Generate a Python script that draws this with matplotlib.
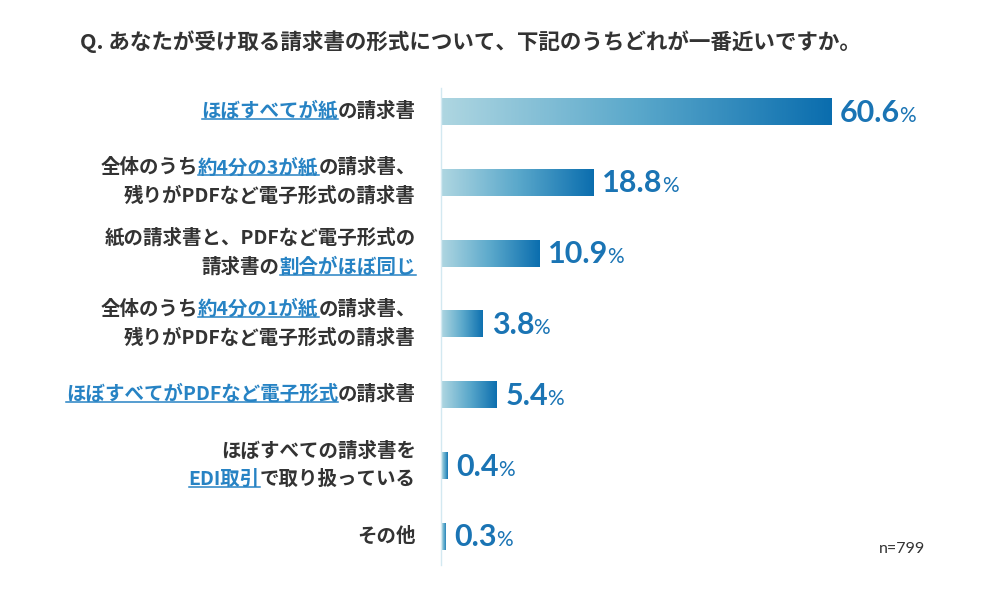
import matplotlib.pyplot as plt
import numpy as np
from matplotlib.colors import LinearSegmentedColormap
from matplotlib.lines import Line2D

# data
categories = [
    "ほぼすべてが紙の請求書",
    "全体のうち約4分の3が紙の請求書、\n残りがPDFなど電子形式の請求書",
    "紙の請求書と、PDFなど電子形式の\n請求書の割合がほぼ同じ",
    "全体のうち約4分の1が紙の請求書、\n残りがPDFなど電子形式の請求書",
    "ほぼすべてがPDFなど電子形式の請求書",
    "ほぼすべての請求書を\nEDI取引で取り扱っている",
    "その他",
]
highlights = [
    "ほぼすべてが紙",
    "約4分の3が紙",
    "割合がほぼ同じ",
    "約4分の1が紙",
    "ほぼすべてがPDFなど電子形式",
    "EDI取引",
    None,
]
values = [60.6, 18.8, 10.9, 3.8, 5.4, 0.4, 0.3]
title = "Q. あなたが受け取る請求書の形式について、下記のうちどれが一番近いですか。"
note = "n=799"

W, H = 988, 600
JP = ["Noto Sans CJK JP", "DejaVu Sans"]
TEXT = "#333333"
BLUE = "#2783c4"
NUM = "#1a74b4"
POW = 0.8

cmap = LinearSegmentedColormap.from_list("bar", ["#aed6e1", "#5aa8cb", "#0a6dae"])

fig = plt.figure(figsize=(W / 100, H / 100), dpi=100)
fig.patch.set_facecolor("white")
ax = fig.add_axes([441 / W, 1 - 565 / H, (960 - 441) / W, (565 - 88) / H])

fwd = lambda x: np.power(np.clip(x, 0, None), POW)
inv = lambda x: np.power(np.clip(x, 0, None), 1 / POW)
ax.set_xscale("function", functions=(fwd, inv))

ypos = np.arange(len(values))
bar_h = 0.395
bars = ax.barh(ypos, values, height=bar_h, color="none", edgecolor="none")
for b, v in zip(bars, values):
    xs = np.linspace(0, v, 256)
    grad = (fwd(xs) / fwd(v))[None, :]
    im = ax.imshow(grad, cmap=cmap, vmin=0, vmax=1, aspect="auto",
                   extent=[0, v, b.get_y() + bar_h, b.get_y()],
                   interpolation="bilinear")
    im.set_clip_path(b)

ax.set_xlim(0, 86.3)
ax.set_ylim(len(values) - 1 + 0.41, -0.325)
ax.set_xticks([])
ax.set_yticks([])
for s in ["top", "right", "bottom"]:
    ax.spines[s].set_visible(False)
ax.spines["left"].set_color("#d3e9f1")
ax.spines["left"].set_linewidth(1.0)

fig.canvas.draw()
r = fig.canvas.get_renderer()


def put_line(segs, x_right, y):
    x = x_right
    for text, hl in reversed(segs):
        t = fig.text(x / W, y / H, text, ha="right", va="center",
                     fontsize=14, fontweight="bold", family=JP,
                     color=BLUE if hl else TEXT)
        bb = t.get_window_extent(r)
        if hl:
            fig.add_artist(Line2D([bb.x0 / W, bb.x1 / W],
                                  [(bb.y0 + 2) / H, (bb.y0 + 2) / H],
                                  transform=fig.transFigure,
                                  color=BLUE, lw=1.1))
        x = bb.x0


# category labels with underlined highlight
for i, (cat, hl) in enumerate(zip(categories, highlights)):
    yc = ax.transData.transform((0, i))[1]
    lines = cat.split("\n")
    offs = [0] if len(lines) == 1 else [14.5, -14.5]
    for line, dy in zip(lines, offs):
        if hl and hl in line:
            a, b2 = line.split(hl, 1)
            segs = [(a, False), (hl, True), (b2, False)]
        else:
            segs = [(line, False)]
        segs = [s for s in segs if s[0]]
        put_line(segs, 416, yc + dy)

# value labels
for i, v in enumerate(values):
    xe, yc = ax.transData.transform((v, i))
    t = fig.text((xe + 8) / W, (yc - 10.5) / H, f"{v:.1f}", ha="left",
                 va="baseline", fontsize=22, fontweight="bold",
                 family="Lato", color=NUM)
    bb = t.get_window_extent(r)
    fig.text((bb.x1 - 1) / W, (yc - 10.5) / H, "%", ha="left", va="baseline",
             fontsize=15, family="Lato", color=NUM)

fig.text(80 / W, 1 - 42 / H, title, ha="left", va="center", fontsize=15.5,
         fontweight="bold", family=JP, color=TEXT)
fig.text(925 / W, 1 - 549 / H, note, ha="right", va="center", fontsize=11.5,
         family="Lato", color=TEXT)

fig.savefig("out.png", dpi=100, facecolor="white")
